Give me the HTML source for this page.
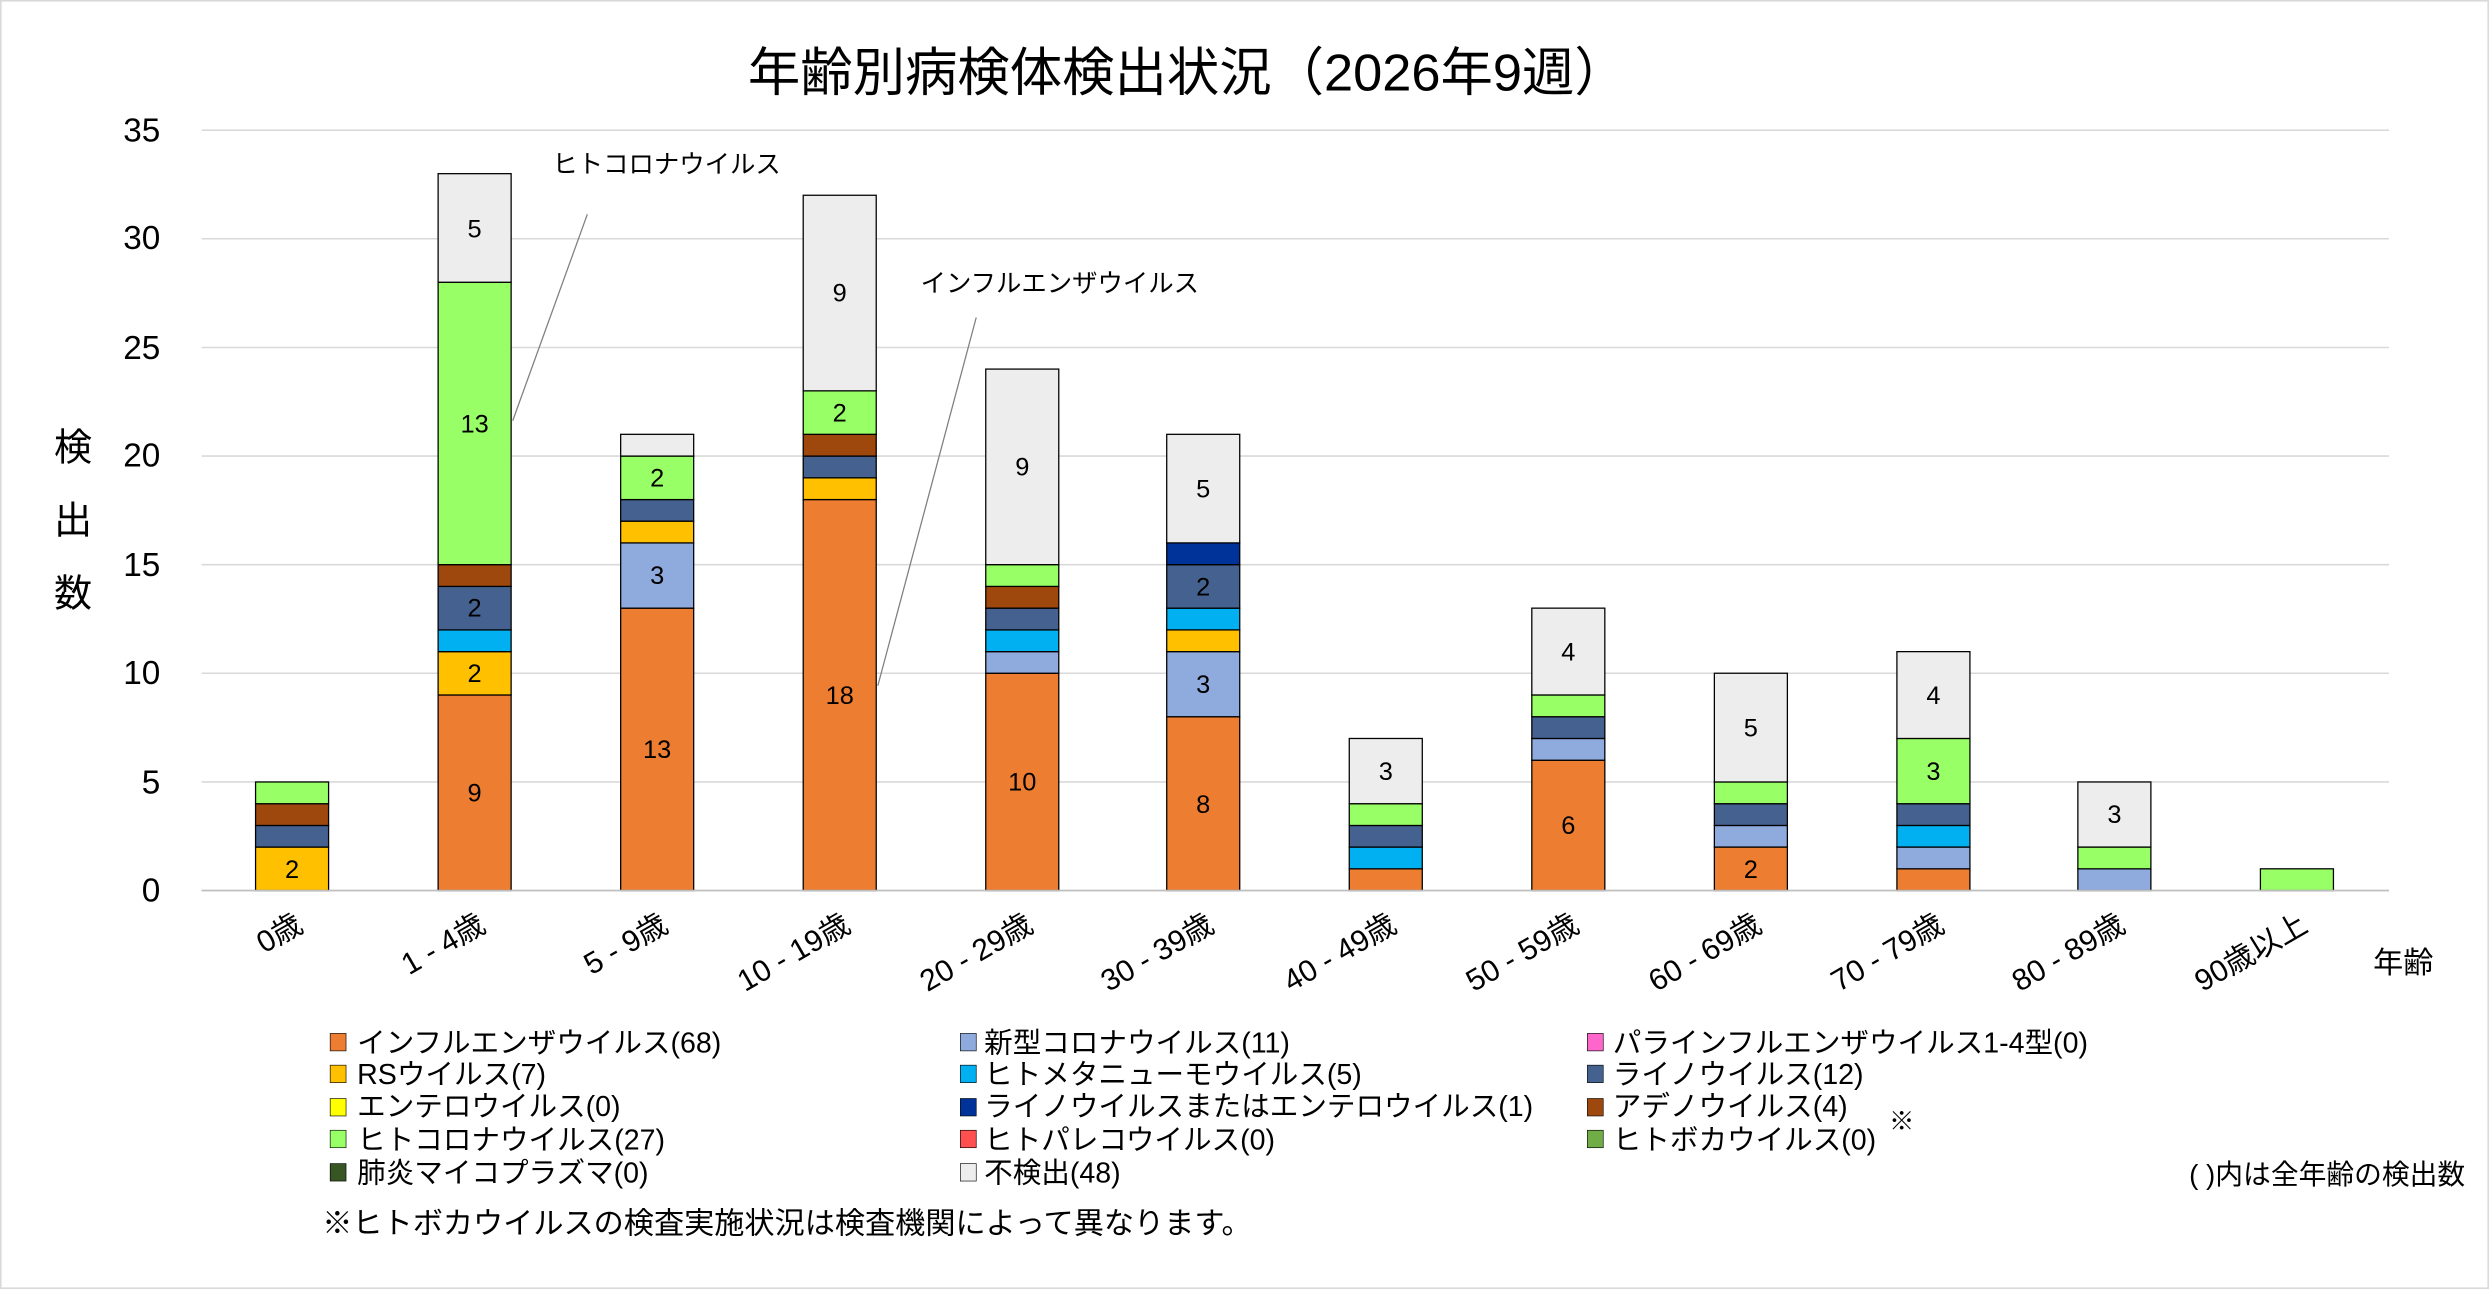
<!DOCTYPE html>
<html><head><meta charset="utf-8"><style>
html,body{margin:0;padding:0;background:#fff;}
svg{display:block;}
text{font-family:"Liberation Sans","Noto Sans CJK JP",sans-serif;fill:#000;}
.b{stroke:#000;stroke-width:0.8;}
.fl{fill:#ED7D31}.cv{fill:#8FAADC}.rs{fill:#FFC000}.hm{fill:#00B0F0}.rh{fill:#44618F}.er{fill:#003399}.ad{fill:#9E480E}.hc{fill:#99FF66}.un{fill:#EDEDED}
.v{font-size:16px;text-anchor:middle;}
.yt{font-size:21px;text-anchor:end;}
.xt{font-size:19px;text-anchor:end;}
.lg{font-size:18px;}
</style></head><body>
<svg width="2489" height="1289" viewBox="0 0 1568 812" preserveAspectRatio="none" xmlns="http://www.w3.org/2000/svg">
<rect x="0.5" y="0.5" width="1567" height="811" fill="#fff" stroke="#d9d9d9"/>
<text x="748" y="57" font-size="33" text-anchor="middle">年齢別病検体検出状況（2026年9週）</text>
<g stroke="#d9d9d9" stroke-width="1">
<line x1="127" x2="1505" y1="82" y2="82"/><line x1="127" x2="1505" y1="150.4" y2="150.4"/><line x1="127" x2="1505" y1="218.9" y2="218.9"/><line x1="127" x2="1505" y1="287.3" y2="287.3"/><line x1="127" x2="1505" y1="355.7" y2="355.7"/><line x1="127" x2="1505" y1="424.1" y2="424.1"/><line x1="127" x2="1505" y1="492.6" y2="492.6"/><line x1="127" x2="1505" y1="561" y2="561"/>
</g>
<g class="yt">
<text x="101" y="89">35</text><text x="101" y="157">30</text><text x="101" y="226">25</text><text x="101" y="294">20</text><text x="101" y="363">15</text><text x="101" y="431">10</text><text x="101" y="500">5</text><text x="101" y="568">0</text>
</g>
<text x="46" y="290" font-size="24" text-anchor="middle">検</text>
<text x="46" y="336" font-size="24" text-anchor="middle">出</text>
<text x="46" y="382" font-size="24" text-anchor="middle">数</text>
<g class="b">
<rect class="rs" x="161" y="533.6" width="46" height="27.4"/><rect class="rh" x="161" y="520" width="46" height="13.6"/><rect class="ad" x="161" y="506.3" width="46" height="13.7"/><rect class="hc" x="161" y="492.6" width="46" height="13.7"/>
<rect class="fl" x="276" y="437.8" width="46" height="123.2"/><rect class="rs" x="276" y="410.5" width="46" height="27.3"/><rect class="hm" x="276" y="396.8" width="46" height="13.7"/><rect class="rh" x="276" y="369.4" width="46" height="27.4"/><rect class="ad" x="276" y="355.7" width="46" height="13.7"/><rect class="hc" x="276" y="177.8" width="46" height="177.9"/><rect class="un" x="276" y="109.4" width="46" height="68.4"/>
<rect class="fl" x="391" y="383.1" width="46" height="177.9"/><rect class="cv" x="391" y="342" width="46" height="41.1"/><rect class="rs" x="391" y="328.3" width="46" height="13.7"/><rect class="rh" x="391" y="314.7" width="46" height="13.6"/><rect class="hc" x="391" y="287.3" width="46" height="27.4"/><rect class="un" x="391" y="273.6" width="46" height="13.7"/>
<rect class="fl" x="506" y="314.7" width="46" height="246.3"/><rect class="rs" x="506" y="301" width="46" height="13.7"/><rect class="rh" x="506" y="287.3" width="46" height="13.7"/><rect class="ad" x="506" y="273.6" width="46" height="13.7"/><rect class="hc" x="506" y="246.2" width="46" height="27.4"/><rect class="un" x="506" y="123" width="46" height="123.2"/>
<rect class="fl" x="621" y="424.1" width="46" height="136.9"/><rect class="cv" x="621" y="410.5" width="46" height="13.6"/><rect class="hm" x="621" y="396.8" width="46" height="13.7"/><rect class="rh" x="621" y="383.1" width="46" height="13.7"/><rect class="ad" x="621" y="369.4" width="46" height="13.7"/><rect class="hc" x="621" y="355.7" width="46" height="13.7"/><rect class="un" x="621" y="232.5" width="46" height="123.2"/>
<rect class="fl" x="735" y="451.5" width="46" height="109.5"/><rect class="cv" x="735" y="410.5" width="46" height="41"/><rect class="rs" x="735" y="396.8" width="46" height="13.7"/><rect class="hm" x="735" y="383.1" width="46" height="13.7"/><rect class="rh" x="735" y="355.7" width="46" height="27.4"/><rect class="er" x="735" y="342" width="46" height="13.7"/><rect class="un" x="735" y="273.6" width="46" height="68.4"/>
<rect class="fl" x="850" y="547.3" width="46" height="13.7"/><rect class="hm" x="850" y="533.6" width="46" height="13.7"/><rect class="rh" x="850" y="520" width="46" height="13.6"/><rect class="hc" x="850" y="506.3" width="46" height="13.7"/><rect class="un" x="850" y="465.2" width="46" height="41.1"/>
<rect class="fl" x="965" y="478.9" width="46" height="82.1"/><rect class="cv" x="965" y="465.2" width="46" height="13.7"/><rect class="rh" x="965" y="451.5" width="46" height="13.7"/><rect class="hc" x="965" y="437.8" width="46" height="13.7"/><rect class="un" x="965" y="383.1" width="46" height="54.7"/>
<rect class="fl" x="1080" y="533.6" width="46" height="27.4"/><rect class="cv" x="1080" y="520" width="46" height="13.6"/><rect class="rh" x="1080" y="506.3" width="46" height="13.7"/><rect class="hc" x="1080" y="492.6" width="46" height="13.7"/><rect class="un" x="1080" y="424.1" width="46" height="68.5"/>
<rect class="fl" x="1195" y="547.3" width="46" height="13.7"/><rect class="cv" x="1195" y="533.6" width="46" height="13.7"/><rect class="hm" x="1195" y="520" width="46" height="13.6"/><rect class="rh" x="1195" y="506.3" width="46" height="13.7"/><rect class="hc" x="1195" y="465.2" width="46" height="41.1"/><rect class="un" x="1195" y="410.5" width="46" height="54.7"/>
<rect class="cv" x="1309" y="547.3" width="46" height="13.7"/><rect class="hc" x="1309" y="533.6" width="46" height="13.7"/><rect class="un" x="1309" y="492.6" width="46" height="41"/>
<rect class="hc" x="1424" y="547.3" width="46" height="13.7"/>
</g>
<g class="v">
<text x="184" y="553">2</text>
<text x="299" y="505">9</text><text x="299" y="429.5">2</text><text x="299" y="388.5">2</text><text x="299" y="272.5">13</text><text x="299" y="149.5">5</text>
<text x="414" y="477.5">13</text><text x="414" y="368">3</text><text x="414" y="306.5">2</text>
<text x="529" y="443.5">18</text><text x="529" y="265.5">2</text><text x="529" y="190">9</text>
<text x="644" y="498">10</text><text x="644" y="299.5">9</text>
<text x="758" y="512">8</text><text x="758" y="436.5">3</text><text x="758" y="375">2</text><text x="758" y="313.5">5</text>
<text x="873" y="491.5">3</text>
<text x="988" y="525.5">6</text><text x="988" y="416">4</text>
<text x="1103" y="553">2</text><text x="1103" y="464">5</text>
<text x="1218" y="491.5">3</text><text x="1218" y="443.5">4</text>
<text x="1332" y="518.5">3</text>
</g>
<line x1="127" x2="1505" y1="561" y2="561" stroke="#bfbfbf" stroke-width="1"/>
<text x="348" y="109" font-size="16">ヒトコロナウイルス</text>
<line x1="370" y1="135" x2="323" y2="265" stroke="#7f7f7f" stroke-width="0.8"/>
<text x="580" y="184" font-size="16">インフルエンザウイルス</text>
<line x1="615" y1="200" x2="553" y2="432" stroke="#7f7f7f" stroke-width="0.8"/>
<g class="xt">
<text transform="translate(192,586) rotate(-30)">0歳</text>
<text transform="translate(307,586) rotate(-30)">1 - 4歳</text>
<text transform="translate(422,586) rotate(-30)">5 - 9歳</text>
<text transform="translate(537,586) rotate(-30)">10 - 19歳</text>
<text transform="translate(652,586) rotate(-30)">20 - 29歳</text>
<text transform="translate(766,586) rotate(-30)">30 - 39歳</text>
<text transform="translate(881,586) rotate(-30)">40 - 49歳</text>
<text transform="translate(996,586) rotate(-30)">50 - 59歳</text>
<text transform="translate(1111,586) rotate(-30)">60 - 69歳</text>
<text transform="translate(1226,586) rotate(-30)">70 - 79歳</text>
<text transform="translate(1340,586) rotate(-30)">80 - 89歳</text>
<text transform="translate(1455,586) rotate(-30)">90歳以上</text>
</g>
<text x="1495" y="613" font-size="19">年齢</text>
<g class="lg">
<rect class="fl" x="208" y="651" width="10" height="11" stroke="#000" stroke-width="0.4"/><text x="225" y="663">インフルエンザウイルス(68)</text>
<rect class="rs" x="208" y="671" width="10" height="11" stroke="#000" stroke-width="0.4"/><text x="225" y="683">RSウイルス(7)</text>
<rect fill="#FFFF00" x="208" y="692" width="10" height="11" stroke="#000" stroke-width="0.4"/><text x="225" y="703">エンテロウイルス(0)</text>
<rect class="hc" x="208" y="712" width="10" height="11" stroke="#000" stroke-width="0.4"/><text x="225" y="724">ヒトコロナウイルス(27)</text>
<rect fill="#375623" x="208" y="733" width="10" height="11" stroke="#000" stroke-width="0.4"/><text x="225" y="745">肺炎マイコプラズマ(0)</text>
<rect class="cv" x="605" y="651" width="10" height="11" stroke="#000" stroke-width="0.4"/><text x="620" y="663">新型コロナウイルス(11)</text>
<rect class="hm" x="605" y="671" width="10" height="11" stroke="#000" stroke-width="0.4"/><text x="620" y="683">ヒトメタニューモウイルス(5)</text>
<rect class="er" x="605" y="692" width="10" height="11" stroke="#000" stroke-width="0.4"/><text x="620" y="703">ライノウイルスまたはエンテロウイルス(1)</text>
<rect fill="#FF5050" x="605" y="712" width="10" height="11" stroke="#000" stroke-width="0.4"/><text x="620" y="724">ヒトパレコウイルス(0)</text>
<rect class="un" x="605" y="733" width="10" height="11" stroke="#000" stroke-width="0.4"/><text x="620" y="745">不検出(48)</text>
<rect fill="#FF66CC" x="1000" y="651" width="10" height="11" stroke="#000" stroke-width="0.4"/><text x="1016" y="663">パラインフルエンザウイルス1-4型(0)</text>
<rect class="rh" x="1000" y="671" width="10" height="11" stroke="#000" stroke-width="0.4"/><text x="1016" y="683">ライノウイルス(12)</text>
<rect class="ad" x="1000" y="692" width="10" height="11" stroke="#000" stroke-width="0.4"/><text x="1016" y="703">アデノウイルス(4)</text>
<rect fill="#70AD47" x="1000" y="712" width="10" height="11" stroke="#000" stroke-width="0.4"/><text x="1016" y="724">ヒトボカウイルス(0)</text>
</g>
<text x="1190" y="712" font-size="16">※</text>
<text x="1553" y="746" font-size="17.5" text-anchor="end">( )内は全年齢の検出数</text>
<text x="203" y="777" font-size="19">※ヒトボカウイルスの検査実施状況は検査機関によって異なります。</text>
</svg>
</body></html>
